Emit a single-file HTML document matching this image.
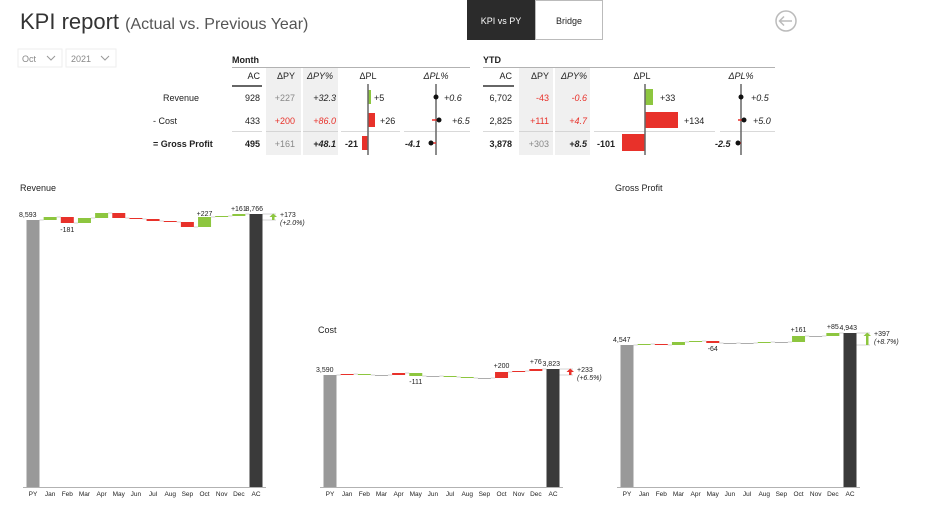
<!DOCTYPE html>
<html><head><meta charset="utf-8"><style>
html,body{margin:0;padding:0;background:#fff;width:936px;height:513px;overflow:hidden;font-family:"Liberation Sans",sans-serif}
svg{display:block}
</style></head><body>
<svg id="s" width="936" height="513" xmlns="http://www.w3.org/2000/svg" font-family="Liberation Sans, sans-serif">
<text x="20" y="29" font-size="22" fill="#333">KPI report <tspan font-size="16" fill="#555">(Actual vs. Previous Year)</tspan></text>
<rect x="467" y="0" width="68" height="40" fill="#2b2b2b"/>
<text x="501" y="24" font-size="9" fill="#fff" text-anchor="middle">KPI vs PY</text>
<rect x="535.5" y="0.5" width="67" height="39" fill="#fff" stroke="#bbb"/>
<text x="569" y="24" font-size="9" fill="#222" text-anchor="middle">Bridge</text>
<circle cx="786" cy="21" r="10" fill="none" stroke="#bbb" stroke-width="1.5"/>
<path d="M792 21H780M784 16.5L779.5 21L784 25.5" fill="none" stroke="#bbb" stroke-width="1.5"/>
<rect x="18" y="49" width="44" height="18" fill="#fff" stroke="#eee"/>
<text x="22" y="62" font-size="9" fill="#888">Oct</text><path d="M47 56l4 4 4-4" fill="none" stroke="#999"/>
<rect x="66" y="49" width="50" height="18" fill="#fff" stroke="#eee"/>
<text x="71" y="62" font-size="9" fill="#888">2021</text><path d="M101 56l4 4 4-4" fill="none" stroke="#999"/>
<g id="tbl" font-size="9" fill="#222"></g>
<g id="charts" font-size="7" fill="#222"></g>
</svg>
<script>
const NS="http://www.w3.org/2000/svg";
function el(p,t,a,txt){const e=document.createElementNS(NS,t);for(const k in a)e.setAttribute(k,a[k]);if(txt!==undefined)e.textContent=txt;p.appendChild(e);return e;}
const T=document.getElementById('tbl');
const G="#8dc63f",R="#e8312a",GR="#888";
// gray bg columns
[[266,301],[303,338],[519,553],[555,590]].forEach(c=>el(T,'rect',{x:c[0],y:68,width:c[1]-c[0],height:87,fill:'#f0f0f0'}));
el(T,'text',{x:232,y:63,'font-weight':'bold'},'Month');
el(T,'line',{x1:232,y1:67.5,x2:470,y2:67.5,stroke:'#999','stroke-width':0.7});
el(T,'text',{x:483,y:63,'font-weight':'bold'},'YTD');
el(T,'line',{x1:483,y1:67.5,x2:775,y2:67.5,stroke:'#999','stroke-width':0.7});
function txt(x,y,s,o){o=o||{};const a={x:x,y:y,'text-anchor':o.a||'end',fill:o.f||'#222'};if(o.b)a['font-weight']='bold';if(o.i)a['font-style']='italic';el(T,'text',a,s);}
// headers
txt(260,79,'AC');txt(295,79,'ΔPY');txt(333,79,'ΔPY%',{i:1});txt(368,79,'ΔPL',{a:'middle'});txt(436,79,'ΔPL%',{a:'middle',i:1});
el(T,'line',{x1:232,y1:86,x2:262,y2:86,stroke:'#333','stroke-width':1.5});
txt(512,79,'AC');txt(549,79,'ΔPY');txt(587,79,'ΔPY%',{i:1});txt(642,79,'ΔPL',{a:'middle'});txt(741,79,'ΔPL%',{a:'middle',i:1});
el(T,'line',{x1:483,y1:86,x2:514,y2:86,stroke:'#333','stroke-width':1.5});
// rows
txt(163,101,'Revenue',{a:'start'});txt(153,124,'-  Cost',{a:'start'});txt(153,147,'= Gross Profit',{a:'start',b:1});
txt(260,101,'928');txt(295,101,'+227',{f:GR});txt(336,101,'+32.3',{i:1});
txt(260,124,'433');txt(295,124,'+200',{f:R});txt(336,124,'+86.0',{f:R,i:1});
txt(260,147,'495',{b:1});txt(295,147,'+161',{f:GR});txt(336,147,'+48.1',{b:1,i:1});
txt(512,101,'6,702');txt(549,101,'-43',{f:R});txt(587,101,'-0.6',{f:R,i:1});
txt(512,124,'2,825');txt(549,124,'+111',{f:R});txt(587,124,'+4.7',{f:R,i:1});
txt(512,147,'3,878',{b:1});txt(549,147,'+303',{f:GR});txt(587,147,'+8.5',{b:1,i:1});
// separators
[[232,262],[266,301],[303,338],[341,400],[404,470],[483,514],[519,553],[555,590],[594,715],[720,775]].forEach(s=>el(T,'line',{x1:s[0],y1:131.5,x2:s[1],y2:131.5,stroke:'#ccc','stroke-width':0.7}));
// month ΔPL
el(T,'rect',{x:368,y:90,width:3,height:14,fill:G});
el(T,'rect',{x:368,y:113,width:7,height:14,fill:R});
el(T,'rect',{x:362,y:136,width:6,height:14,fill:R});
el(T,'line',{x1:368,y1:84,x2:368,y2:155,stroke:'#666','stroke-width':1.5});
txt(374,101,'+5',{a:'start'});txt(380,124,'+26',{a:'start'});txt(345,147,'-21',{a:'start',b:1});
// month ΔPL%
el(T,'line',{x1:436,y1:84,x2:436,y2:155,stroke:'#666','stroke-width':1.5});
el(T,'line',{x1:432,y1:120,x2:439,y2:120,stroke:R,'stroke-width':1.5});
el(T,'line',{x1:431,y1:143,x2:436,y2:143,stroke:R,'stroke-width':1.5});
el(T,'circle',{cx:436,cy:97,r:2.5,fill:'#111'});el(T,'circle',{cx:439,cy:120,r:2.5,fill:'#111'});el(T,'circle',{cx:431,cy:143,r:2.5,fill:'#111'});
txt(444,101,'+0.6',{a:'start',i:1});txt(452,124,'+6.5',{a:'start',i:1});txt(405,147,'-4.1',{a:'start',i:1,b:1});
// YTD ΔPL
el(T,'rect',{x:645,y:89,width:8,height:16,fill:G});
el(T,'rect',{x:645,y:112,width:33,height:16,fill:R});
el(T,'rect',{x:622,y:134,width:23,height:17,fill:R});
el(T,'line',{x1:645,y1:84,x2:645,y2:155,stroke:'#666','stroke-width':1.5});
txt(660,101,'+33',{a:'start'});txt(684,124,'+134',{a:'start'});txt(597,147,'-101',{a:'start',b:1});
el(T,'line',{x1:741,y1:84,x2:741,y2:155,stroke:'#666','stroke-width':1.5});
el(T,'line',{x1:738,y1:120,x2:744,y2:120,stroke:R,'stroke-width':1.5});
el(T,'line',{x1:738,y1:143,x2:741,y2:143,stroke:R,'stroke-width':1.5});
el(T,'circle',{cx:741,cy:97,r:2.5,fill:'#111'});el(T,'circle',{cx:744,cy:120,r:2.5,fill:'#111'});el(T,'circle',{cx:738,cy:143,r:2.5,fill:'#111'});
txt(751,101,'+0.5',{a:'start',i:1});txt(753,124,'+5.0',{a:'start',i:1});txt(715,147,'-2.5',{a:'start',i:1,b:1});

// charts
const C=document.getElementById('charts');
const M=['PY','Jan','Feb','Mar','Apr','May','Jun','Jul','Aug','Sep','Oct','Nov','Dec','AC'];
function chart(o){
  el(C,'text',{x:o.tx,y:o.ty,'font-size':9},o.title);
  const step=(o.acx-o.pyx)/13, base=487;
  el(C,'line',{x1:o.pyx-10,y1:base+0.5,x2:o.acx+10,y2:base+0.5,stroke:'#999','stroke-width':0.7});
  M.forEach((m,i)=>el(C,'text',{x:o.pyx+i*step,y:496,'text-anchor':'middle','font-size':6.5},m));
  el(C,'rect',{x:o.pyx-6.5,y:o.py,width:13,height:base-o.py,fill:'#999'});
  let y=o.py;
  o.d.forEach((d,i)=>{
    const cx=o.pyx+(i+1)*step, ny=y+d;
    el(C,'line',{x1:cx-step+6.5,y1:y,x2:cx-6.5,y2:y,stroke:'#aaa','stroke-width':0.5});
    const top=Math.min(y,ny),h=Math.max(Math.abs(d),0.8);
    const up=d<0;let col=d==0?'#999':((up!==o.inv)?G:R);
    el(C,'rect',{x:cx-6.5,y:top,width:13,height:h,fill:col});
    y=ny;
  });
  el(C,'line',{x1:o.acx-step+6.5,y1:y,x2:o.acx-6.5,y2:y,stroke:'#aaa','stroke-width':0.5});
  el(C,'rect',{x:o.acx-6.5,y:y,width:13,height:base-y,fill:'#3a3a3a'});
  el(C,'text',{x:o.pyx-14,y:o.py-3},o.pyl);
  el(C,'text',{x:o.acx+7,y:y-3,'text-anchor':'end'},o.acl);
  o.lab.forEach(l=>el(C,'text',{x:o.pyx+l[0]*step,y:l[2],'text-anchor':'middle'},l[1]));
  // diff arrow
  el(C,'line',{x1:o.acx+6.5,y1:o.py,x2:o.acx+20,y2:o.py,stroke:'#aaa','stroke-width':0.5});
  el(C,'line',{x1:o.acx+6.5,y1:y,x2:o.acx+20,y2:y,stroke:'#aaa','stroke-width':0.5});
  el(C,'rect',{x:o.acx+16,y:y+2,width:2.5,height:Math.max(o.py-y-2,1),fill:o.inv?R:G});
  el(C,'path',{d:`M${o.acx+13.5} ${y+3}L${o.acx+17.25} ${y-0.5}L${o.acx+21} ${y+3}Z`,fill:o.inv?R:G});
  el(C,'text',{x:o.acx+24,y:y+3},o.dl);
  el(C,'text',{x:o.acx+24,y:y+11,'font-style':'italic'},o.dp);
}
chart({title:'Revenue',tx:20,ty:191,pyx:33,acx:256,py:220,d:[-3,6,-5,-5,5,1,2,1,5,-10,-1,-2],inv:false,
 pyl:'8,593',acl:'8,766',dl:'+173',dp:'(+2.0%)',lab:[[2,'-181',232],[10,'+227',216],[12,'+161',211]]});
chart({title:'Cost',tx:318,ty:333,pyx:330,acx:553,py:375,d:[-1,1,0,-2,3,0,1,1,0,-6,-1,-2],inv:true,
 pyl:'3,590',acl:'3,823',dl:'+233',dp:'(+6.5%)',lab:[[5,'-111',384],[10,'+200',368],[12,'+76',364]]});
chart({title:'Gross Profit',tx:615,ty:191,pyx:627,acx:850,py:345,d:[-1,1,-3,-1,2,0,0,-1,0,-6,0,-3],inv:false,
 pyl:'4,547',acl:'4,943',dl:'+397',dp:'(+8.7%)',lab:[[5,'-64',351],[10,'+161',332],[12,'+85',329]]});
</script>
</body></html>
